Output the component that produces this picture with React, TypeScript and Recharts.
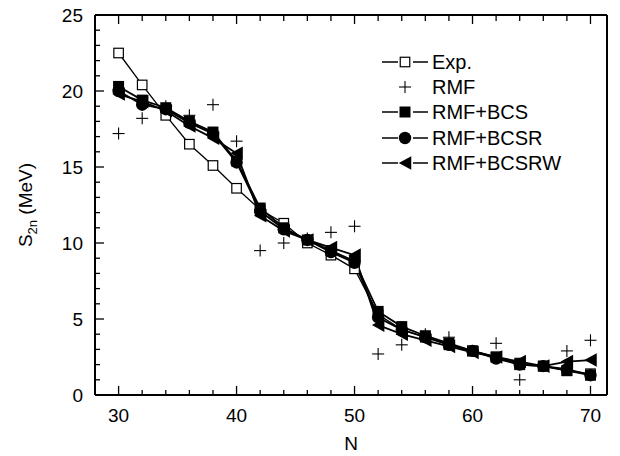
import { ComposedChart, Line, XAxis, YAxis, Legend } from "recharts";

// neutron number N and two-neutron separation energies (MeV)
const nValues = [30, 32, 34, 36, 38, 40, 42, 44, 46, 48, 50, 52, 54, 56, 58, 60, 62, 64, 66, 68, 70];
const expValues = [22.5, 20.4, 18.4, 16.5, 15.1, 13.6, 12.2, 11.3, 10.0, 9.2, 8.3, 5.3, 4.3, 3.8, 3.3, 2.9, 2.5, 2.1, 1.9, 1.6, 1.4];
const rmfValues = [17.2, 18.2, 19.0, 18.4, 19.1, 16.7, 9.5, 10.0, 10.3, 10.7, 11.1, 2.7, 3.3, 4.0, 3.8, 2.9, 3.4, 1.0, 1.9, 2.9, 3.6];
const bcsValues = [20.3, 19.4, 18.9, 18.0, 17.3, 15.4, 12.3, 11.0, 10.2, 9.5, 8.8, 5.5, 4.5, 3.9, 3.4, 2.9, 2.5, 2.0, 1.9, 1.6, 1.3];
const bcsrValues = [20.0, 19.1, 18.8, 17.9, 17.2, 15.3, 12.1, 10.9, 10.2, 9.4, 8.7, 5.1, 4.3, 3.8, 3.3, 2.9, 2.4, 2.0, 1.9, 1.7, 1.3];
const bcsrwValues = [19.8, 19.3, 18.7, 17.7, 16.9, 15.9, 11.8, 10.8, 10.2, 9.7, 9.2, 4.6, 4.0, 3.6, 3.2, 2.8, 2.5, 2.2, 1.9, 2.2, 2.3];

const xTicks = [30, 32, 34, 36, 38, 40, 42, 44, 46, 48, 50, 52, 54, 56, 58, 60, 62, 64, 66, 68, 70];
const yTicks = [0, 1, 2, 3, 4, 5, 6, 7, 8, 9, 10, 11, 12, 13, 14, 15, 16, 17, 18, 19, 20, 21, 22, 23, 24, 25];

const legendNames = ["Exp.", "RMF", "RMF+BCS", "RMF+BCSR", "RMF+BCSRW"];

const data = nValues.map((n, i) => ({
  n,
  exp: expValues[i],
  rmf: rmfValues[i],
  bcs: bcsValues[i],
  bcsr: bcsrValues[i],
  bcsrw: bcsrwValues[i],
}));

const FONT = 19;

// marker shapes
const Marker = ({ kind, cx, cy }: { kind: string; cx: number; cy: number }) => {
  if (kind === "exp") {
    const s = 9.5;
    return <rect x={cx - s / 2} y={cy - s / 2} width={s} height={s} fill="#fff" stroke="#000" strokeWidth={1.2} />;
  }
  if (kind === "rmf") {
    const h = 6;
    return (
      <g stroke="#000" strokeWidth={1.1}>
        <line x1={cx - h} y1={cy} x2={cx + h} y2={cy} />
        <line x1={cx} y1={cy - h} x2={cx} y2={cy + h} />
      </g>
    );
  }
  if (kind === "bcs") {
    const s = 11;
    return <rect x={cx - s / 2} y={cy - s / 2} width={s} height={s} fill="#000" />;
  }
  if (kind === "bcsr") {
    return <circle cx={cx} cy={cy} r={6.2} fill="#000" />;
  }
  const w = 12.5;
  const h = 6.8;
  return <polygon points={`${cx - w / 2},${cy} ${cx + w / 2},${cy - h} ${cx + w / 2},${cy + h}`} fill="#000" />;
};

const dotFor = (kind: string) => (props: any) => {
  const { cx, cy, index } = props;
  if (cx == null || cy == null) return <g key={`${kind}-${index}`} />;
  return (
    <g key={`${kind}-${index}`}>
      <Marker kind={kind} cx={cx} cy={cy} />
    </g>
  );
};

const BottomTick = (props: any) => {
  const { x, y, payload } = props;
  const major = payload.value % 10 === 0;
  return (
    <g>
      <line x1={x} y1={y} x2={x} y2={y - (major ? 9 : 5)} stroke="#000" strokeWidth={1.3} />
      {major && (
        <text x={x} y={y + 27} textAnchor="middle" fontSize={FONT} fill="#000">
          {payload.value}
        </text>
      )}
    </g>
  );
};

const TopTick = (props: any) => {
  const { x, y, payload } = props;
  const major = payload.value % 10 === 0;
  return <line x1={x} y1={y} x2={x} y2={y + (major ? 9 : 6)} stroke="#000" strokeWidth={1.3} />;
};

const LeftTick = (props: any) => {
  const { x, y, payload } = props;
  const major = payload.value % 5 === 0;
  return (
    <g>
      <line x1={x} y1={y} x2={x + (major ? 9 : 5)} y2={y} stroke="#000" strokeWidth={1.3} />
      {major && (
        <text x={x - 12} y={y + 7} textAnchor="end" fontSize={FONT} fill="#000">
          {payload.value}
        </text>
      )}
    </g>
  );
};

const RightTick = (props: any) => {
  const { x, y, payload } = props;
  const major = payload.value % 5 === 0;
  return <line x1={x} y1={y} x2={x - (major ? 9 : 5)} y2={y} stroke="#000" strokeWidth={1.3} />;
};

const YTitle = () => (
  <text transform="translate(32, 205) rotate(-90)" textAnchor="middle" fontSize={FONT} fill="#000">
    S<tspan fontSize={13} dy={5}>2n</tspan>
    <tspan dy={-5}> (MeV)</tspan>
  </text>
);

const XTitle = () => (
  <text x={351} y={450} textAnchor="middle" fontSize={FONT} fill="#000">
    N
  </text>
);

const legendKinds = ["exp", "rmf", "bcs", "bcsr", "bcsrw"];

const renderLegend = () => (
  <div>
    {legendNames.map((name, i) => (
      <div key={name} style={{ display: "flex", alignItems: "center", height: 25.3 }}>
        <svg width={50} height={20} style={{ flex: "none" }}>
          {legendKinds[i] !== "rmf" && (
            <g stroke="#000" strokeWidth={1.5}>
              <line x1={0} y1={10} x2={16} y2={10} />
              <line x1={31} y1={10} x2={46} y2={10} />
            </g>
          )}
          <Marker kind={legendKinds[i]} cx={23} cy={10} />
        </svg>
        <span style={{ fontSize: 20, color: "#000", lineHeight: 1 }}>{name}</span>
      </div>
    ))}
  </div>
);

export default function App() {
  return (
    <div
      style={{
        position: "absolute",
        left: 0,
        top: 0,
        width: 620,
        height: 456,
        background: "#fff",
        fontFamily: "'Liberation Sans', Arial, sans-serif",
      }}
    >
      <ComposedChart width={620} height={456} data={data} margin={{ top: 14, right: 12, bottom: 60, left: 94 }}>
        <XAxis
          dataKey="n"
          type="number"
          domain={[28, 71.4]}
          allowDataOverflow
          ticks={xTicks}
          interval={0}
          height={1}
          tickSize={0}
          tickMargin={0}
          tickLine={false}
          tick={<BottomTick />}
          axisLine={{ stroke: "#000", strokeWidth: 2 }}
          label={<XTitle />}
        />
        <XAxis
          xAxisId="top"
          orientation="top"
          dataKey="n"
          type="number"
          domain={[28, 71.4]}
          allowDataOverflow
          ticks={xTicks}
          interval={0}
          height={1}
          tickSize={0}
          tickMargin={0}
          tickLine={false}
          tick={<TopTick />}
          axisLine={{ stroke: "#000", strokeWidth: 2 }}
        />
        <YAxis
          type="number"
          domain={[0, 25]}
          ticks={yTicks}
          interval={0}
          width={1}
          tickSize={0}
          tickMargin={0}
          tickLine={false}
          tick={<LeftTick />}
          axisLine={{ stroke: "#000", strokeWidth: 2 }}
          label={<YTitle />}
        />
        <YAxis
          yAxisId="right"
          orientation="right"
          type="number"
          domain={[0, 25]}
          ticks={yTicks}
          interval={0}
          width={1}
          tickSize={0}
          tickMargin={0}
          tickLine={false}
          tick={<RightTick />}
          axisLine={{ stroke: "#000", strokeWidth: 2 }}
        />
        <Legend
          layout="vertical"
          align="center"
          verticalAlign="middle"
          content={renderLegend}
          wrapperStyle={{ position: "absolute", left: 382, top: 49, width: 220 }}
        />
        <Line dataKey="exp" name="Exp." stroke="#000" strokeWidth={1.3} dot={dotFor("exp")} isAnimationActive={false} />
        <Line dataKey="bcsrw" name="RMF+BCSRW" stroke="#000" strokeWidth={1.8} dot={dotFor("bcsrw")} isAnimationActive={false} />
        <Line dataKey="bcsr" name="RMF+BCSR" stroke="#000" strokeWidth={1.8} dot={dotFor("bcsr")} isAnimationActive={false} />
        <Line dataKey="bcs" name="RMF+BCS" stroke="#000" strokeWidth={1.8} dot={dotFor("bcs")} isAnimationActive={false} />
        <Line dataKey="rmf" name="RMF" stroke="none" dot={dotFor("rmf")} isAnimationActive={false} />
      </ComposedChart>
    </div>
  );
}
